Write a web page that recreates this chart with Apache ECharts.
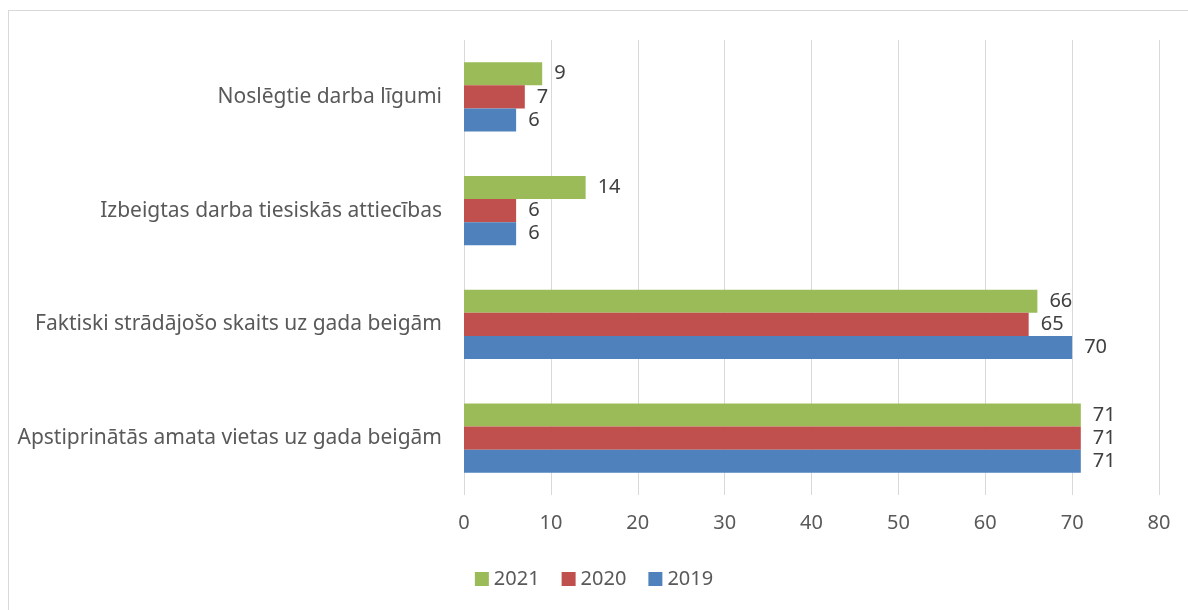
<!DOCTYPE html>
<html>
<head>
<meta charset="utf-8">
<script src="https://cdn.jsdelivr.net/npm/echarts@6/dist/echarts.min.js"></script>
<style>
  body { margin: 0; background: #fff; }
  #chart { width: 1188px; height: 610px; }
  .frame {
    position: absolute; left: 8px; top: 10px; width: 1300px; height: 700px;
    border: 1px solid #d9d9d9; pointer-events: none;
  }
</style>
</head>
<body>
<div id="chart"></div>
<div class="frame"></div>
<script>
const categories = [
  "Apstiprinātās amata vietas uz gada beigām",
  "Faktiski strādājošo skaits uz gada beigām",
  "Izbeigtas darba tiesiskās attiecības",
  "Noslēgtie darba līgumi"
];
const years = ["2021", "2020", "2019"];
const v2021 = [71, 66, 14, 9];
const v2020 = [71, 65, 6, 7];
const v2019 = [71, 70, 6, 6];
const colors = ["#9BBB59", "#C0504D", "#4F81BD"];

const font = "'Noto Sans', sans-serif";
const myChart = echarts.init(document.getElementById("chart"));

// series 0 sits at the top of each band for a category y axis
const mk = (name, data, color) => ({
  name: name,
  type: "bar",
  data: data,
  barGap: "0%",
  barCategoryGap: "39%",
  itemStyle: { color: color },
  label: {
    show: true,
    position: "right",
    distance: 12,
    color: "#404040",
    fontSize: 20,
    fontFamily: font
  }
});

myChart.setOption({
  animation: false,
  grid: { left: 464, right: 29, top: 40, bottom: 115 },
  legend: {
    data: years,
    bottom: 16,
    left: "center",
    itemWidth: 14,
    itemHeight: 14,
    itemGap: 22,
    icon: "rect",
    textStyle: { color: "#595959", fontSize: 20, fontFamily: font }
  },
  xAxis: {
    type: "value",
    min: 0,
    max: 80,
    interval: 10,
    axisLine: { show: false },
    axisTick: { show: false },
    splitLine: { lineStyle: { color: "#d9d9d9", width: 1 } },
    axisLabel: { color: "#595959", fontSize: 20, fontFamily: font, margin: 18 }
  },
  yAxis: {
    type: "category",
    data: categories,
    axisLine: { show: false },
    axisTick: { show: false },
    axisLabel: { color: "#595959", fontSize: 21, fontFamily: font, margin: 22 }
  },
  series: [
    mk(years[0], v2021, colors[0]),
    mk(years[1], v2020, colors[1]),
    mk(years[2], v2019, colors[2])
  ]
});
</script>
</body>
</html>
